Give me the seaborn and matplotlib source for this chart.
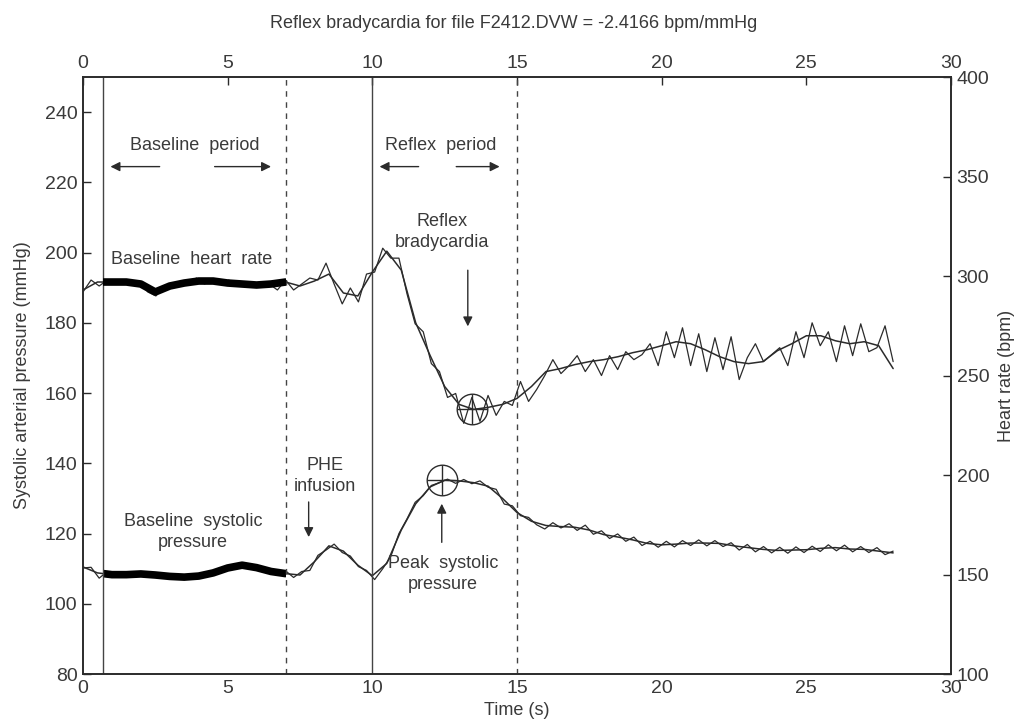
import numpy as np
import matplotlib
matplotlib.use('Agg')
import matplotlib.pyplot as plt
from matplotlib.patches import Rectangle
import seaborn as sns

# raw samples every 0.28 s, smoothed trace every 0.5 s
RAW_DT = 0.28
SMOOTH_DT = 0.5

hr_raw = [292, 298, 295, 298, 296, 298, 296, 297, 292, 290,
          295, 294, 297, 296, 299, 296, 298, 296, 298, 295,
          297, 295, 296, 296, 293, 298, 293, 296, 299, 298,
          306.5, 296, 286, 294, 287, 301, 302, 314, 309, 309,
          291, 276, 272, 256, 252, 239, 241, 226, 239, 227,
          240, 230, 237, 235, 247, 237, 243, 250, 258, 251,
          255, 260, 252, 258, 250, 260, 253, 262, 258, 260.5,
          266, 255, 272, 259, 274, 255, 271, 252, 269, 253,
          269.5, 248, 259, 266, 257, 260.5, 264, 255, 272, 259,
          276.5, 265, 272, 257, 275, 260, 276, 262, 264, 275,
          257]

hr_smooth = [293, 297, 297, 297, 296, 292, 295, 296.5, 297.5, 297.5,
             296.5, 296, 295.5, 296, 297, 295, 297.5, 301, 291.5, 290,
             302, 312.5, 303, 276.5, 260, 244.5, 235.5, 233, 234, 235.5,
             238.5, 244.5, 252, 253.5, 255.5, 257, 258, 259.5, 261.5, 263,
             265, 267, 266, 263, 259.5, 257, 256, 257, 262.5, 266,
             270, 270, 267.5, 266, 267, 265, 253.5]

sbp_raw = [110.2, 110.4, 107.3, 109.2, 107.8, 108.8, 107.9, 108.9, 107.7, 108.8,
           107.5, 108.3, 107.0, 108.2, 107.4, 108.6, 108.3, 110.2, 109.7, 111.4,
           110.6, 111.1, 109.4, 109.9, 108.2, 109.4, 107.5, 109.2, 109.5, 113.8,
           115.3, 117.0, 114.6, 113.6, 110.6, 109.5, 106.9, 110.0, 113.5, 120.0,
           124.2, 128.9, 130.8, 133.7, 134.5, 135.5, 134.3, 135.4, 134.2, 135.0,
           133.2, 132.6, 128.4, 127.9, 125.1, 124.6, 122.5, 121.3, 123.1, 121.6,
           122.8, 120.9, 122.4, 119.8, 120.8, 118.6, 119.9, 117.8, 119.0, 116.6,
           117.8, 116.1, 117.8, 116.2, 118.0, 116.6, 118.2, 116.5, 118.0, 116.3,
           117.4, 115.3, 116.9, 114.8, 116.3, 114.5, 116.1, 114.4, 116.2, 114.6,
           116.4, 114.9, 116.8, 115.1, 116.7, 114.8, 116.3, 114.6, 116.0, 114.0,
           115.0]

sbp_smooth = [110.5, 108.8, 108.3, 108.3, 108.5, 108.2, 107.8, 107.6, 107.9, 108.8,
              110.2, 111.0, 110.3, 109.2, 108.6, 108.2, 112.0, 116.5, 115.0, 111.0,
              108.0, 111.5, 121.0, 128.5, 133.3, 135.2, 135.0, 134.5, 133.5, 130.0,
              126.0, 123.5, 122.3, 122.0, 121.8, 121.0, 119.7, 119.0, 118.2, 117.2,
              116.8, 117.0, 117.3, 117.3, 117.2, 116.5, 116.0, 115.5, 115.2, 115.3,
              115.4, 115.8, 116.0, 115.6, 115.5, 115.0, 114.5]

baseline_start, baseline_end = 0.7, 7.0
reflex_start, reflex_end = 10.0, 15.0
peak_sbp = (12.4, 135.2)
min_hr = (13.45, 233.0)
title = "Reflex bradycardia for file F2412.DVW = -2.4166 bpm/mmHg"

t_raw = np.arange(len(hr_raw)) * RAW_DT
t_smooth = np.arange(len(hr_smooth)) * SMOOTH_DT
base = (t_smooth >= 0.5) & (t_smooth <= baseline_end)

sns.set_style("white")
plt.rcParams['font.family'] = ['Liberation Sans', 'DejaVu Sans']
ink = '#2b2b2b'
txt = '#3a3a3a'
fs = 13

fig = plt.figure(figsize=(10.18, 7.25), dpi=100)
ax = fig.add_axes([0.0815, 0.0703, 0.8527, 0.8234])
ax2 = ax.twinx()

# pressure traces
sns.lineplot(x=t_raw, y=sbp_raw, ax=ax, color=ink, lw=0.9)
sns.lineplot(x=t_smooth, y=sbp_smooth, ax=ax, color=ink, lw=1.1)
sns.lineplot(x=t_smooth[base], y=np.array(sbp_smooth)[base], ax=ax, color='black', lw=5.5)

# heart-rate traces
sns.lineplot(x=t_raw, y=hr_raw, ax=ax2, color=ink, lw=0.9)
sns.lineplot(x=t_smooth, y=hr_smooth, ax=ax2, color=ink, lw=1.1)
sns.lineplot(x=t_smooth[base], y=np.array(hr_smooth)[base], ax=ax2, color='black', lw=5.5)

# thick baseline segments only inside the baseline window
for a, line in [(ax, ax.lines[-1]), (ax2, ax2.lines[-1])]:
    clip = Rectangle((baseline_start, 0), baseline_end - baseline_start, 1000,
                     transform=a.transData)
    line.set_clip_path(clip)

for x, ls in [(baseline_start, '-'), (baseline_end, (0, (4, 4))),
              (reflex_start, '-'), (reflex_end, (0, (4, 4)))]:
    ax.axvline(x, color='#444444', lw=1, ls=ls)

# circled markers
ax.plot(*peak_sbp, marker='o', ms=22, mfc='none', mec=ink, mew=1)
ax.plot(*peak_sbp, marker='+', ms=22, mec=ink, mew=1)
ax2.plot(*min_hr, marker='o', ms=22, mfc='none', mec=ink, mew=1)
ax2.plot(*min_hr, marker='+', ms=22, mec=ink, mew=1)

ax.set_xlim(0, 30)
ax.set_ylim(80, 250)
ax2.set_ylim(100, 400)
ax.set_xticks(range(0, 31, 5))
ax.set_yticks(range(80, 241, 20))
ax2.set_yticks(range(100, 401, 50))
ax.tick_params(axis='x', top=True, labeltop=True)
for a in (ax, ax2):
    a.tick_params(direction='in', length=6, width=1, colors=ink,
                  labelsize=14, labelcolor=txt, pad=4)
    for s in a.spines.values():
        s.set_color(ink)
        s.set_linewidth(1.2)

ax.set_xlabel("Time (s)", fontsize=13, color=txt, labelpad=4)
ax.set_ylabel("Systolic arterial pressure (mmHg)", fontsize=13, color=txt, labelpad=10)
ax2.set_ylabel("Heart rate (bpm)", fontsize=13, color=txt, labelpad=6)
fig.text(0.505, 0.968, title, ha='center', va='center', fontsize=13, color=txt)

arrow = dict(arrowstyle='-|>', color=ink, lw=1, mutation_scale=14, shrinkA=0, shrinkB=0)
ax.text(3.85, 230.5, "Baseline  period", ha='center', va='center', fontsize=fs, color=txt)
ax.annotate("", xy=(0.95, 224.5), xytext=(2.65, 224.5), arrowprops=arrow)
ax.annotate("", xy=(6.5, 224.5), xytext=(4.55, 224.5), arrowprops=arrow)
ax.text(12.35, 230.5, "Reflex  period", ha='center', va='center', fontsize=fs, color=txt)
ax.annotate("", xy=(10.25, 224.5), xytext=(11.6, 224.5), arrowprops=arrow)
ax.annotate("", xy=(14.4, 224.5), xytext=(12.9, 224.5), arrowprops=arrow)
ax.text(12.4, 206, "Reflex\nbradycardia", ha='center', va='center', fontsize=fs,
        color=txt, linespacing=1.3)
ax.annotate("", xy=(13.3, 179), xytext=(13.3, 195), arrowprops=arrow)
ax.text(3.75, 198, "Baseline  heart  rate", ha='center', va='center', fontsize=fs, color=txt)
ax.text(3.8, 120.5, "Baseline  systolic\npressure", ha='center', va='center',
        fontsize=fs, color=txt, linespacing=1.3)
ax.text(8.35, 136.5, "PHE\ninfusion", ha='center', va='center', fontsize=fs,
        color=txt, linespacing=1.3)
ax.annotate("", xy=(7.8, 119), xytext=(7.8, 129), arrowprops=arrow)
ax.text(12.45, 108.5, "Peak  systolic\npressure", ha='center', va='center',
        fontsize=fs, color=txt, linespacing=1.3)
ax.annotate("", xy=(12.4, 128.5), xytext=(12.4, 117.5), arrowprops=arrow)

fig.savefig("out.png", dpi=100)
